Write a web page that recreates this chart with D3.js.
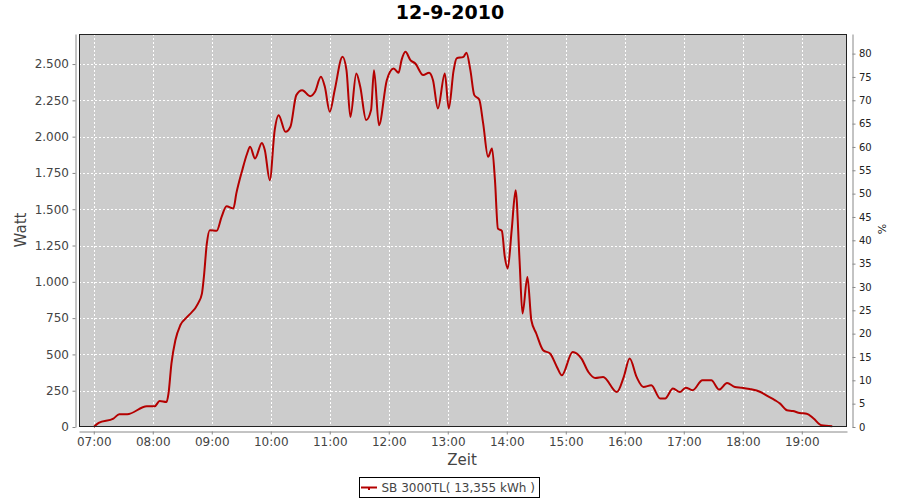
<!DOCTYPE html>
<html>
<head>
<meta charset="utf-8">
<script src="https://cdn.jsdelivr.net/npm/d3@7/dist/d3.min.js"></script>
<style>
  html, body { margin: 0; padding: 0; background: #fff; }
  svg { display: block; font-family: "DejaVu Sans", sans-serif; }
</style>
</head>
<body>
<svg id="chart" width="900" height="500"></svg>
<script>
// ---- data ----
const title = "12-9-2010";
const seriesName = "SB 3000TL( 13,355 kWh )";
const times = ["07:00","07:05","07:20","07:26","07:34","07:54","08:02","08:07","08:14","08:16",
  "08:19","08:23","08:28","08:35","08:46","08:50","08:52","08:55","08:58","09:05",
  "09:10","09:15","09:22","09:25","09:31","09:36","09:39","09:44","09:51","09:54",
  "09:59","10:04","10:08","10:15","10:20","10:26","10:32","10:40","10:45","10:51",
  "10:55","11:00","11:05","11:13","11:17","11:21","11:27","11:31","11:37","11:42",
  "11:45","11:50","11:58","12:05","12:10","12:13","12:17","12:22","12:27","12:35",
  "12:41","12:45","12:50","12:57","13:01","13:06","13:09","13:16","13:19","13:23",
  "13:27","13:32","13:36","13:41","13:45","13:48","13:51","13:55","13:58","14:01",
  "14:05","14:09","14:13","14:16","14:21","14:25","14:30","14:37","14:44","14:51",
  "14:56","15:07","15:16","15:23","15:30","15:38","15:52","15:59","16:05","16:12",
  "16:19","16:27","16:36","16:41","16:49","16:56","17:02","17:09","17:19","17:28",
  "17:36","17:44","17:52","17:59","18:07","18:18","18:24","18:33","18:38","18:45",
  "18:51","18:58","19:05","19:12","19:20","19:31"];
const watts = [0,28,58,88,88,143,143,179,172,230,
  437,597,701,758,850,919,1034,1264,1356,1351,
  1447,1521,1505,1609,1769,1884,1930,1850,1957,1907,
  1700,2045,2148,2033,2068,2286,2320,2279,2309,2412,
  2343,2171,2320,2550,2458,2136,2435,2343,2114,2183,
  2458,2079,2389,2470,2440,2527,2584,2527,2504,2424,
  2440,2389,2194,2435,2194,2458,2539,2550,2578,2458,
  2286,2256,2091,1861,1919,1700,1367,1351,1172,1092,
  1356,1631,1149,781,1034,735,644,529,506,414,
  356,517,471,379,338,345,241,345,471,345,
  276,287,196,196,265,241,271,253,322,322,
  258,303,276,271,262,241,218,184,161,115,
  110,96,92,58,12,5];
const leftTicks = [0,250,500,750,1000,1250,1500,1750,2000,2250,2500];
const rightTicks = [0,5,10,15,20,25,30,35,40,45,50,55,60,65,70,75,80];
const hourTicks = ["07:00","08:00","09:00","10:00","11:00","12:00","13:00","14:00","15:00","16:00","17:00","18:00","19:00"];

// ---- layout ----
const svg = d3.select("#chart");
const P = {left: 79, right: 847, top: 34, bottom: 427};
const parseT = s => { const [h, m] = s.split(":").map(Number); return new Date(2010, 8, 12, h, m); };

const x = d3.scaleTime()
  .domain([new Date(2010, 8, 12, 6, 45), new Date(2010, 8, 12, 19, 46)])
  .range([P.left, P.right]);
const y = d3.scaleLinear().domain([0, 2707]).range([P.bottom, P.top]);
const y2 = d3.scaleLinear().domain([0, 84.2]).range([P.bottom, P.top]);

const de = d3.formatLocale({decimal: ",", thousands: ".", grouping: [3], currency: ["", "€"]});
const fmt = de.format(",d");

// title
svg.append("text").attr("x", 450).attr("y", 19).attr("text-anchor", "middle")
  .attr("font-size", 19).attr("font-weight", "bold").attr("fill", "#000").text(title);

// plot background
svg.append("rect").attr("x", P.left).attr("y", P.top)
  .attr("width", P.right - P.left).attr("height", P.bottom - P.top).attr("fill", "#cccccc");

// grid
const grid = svg.append("g").attr("stroke", "#fff").attr("stroke-width", 1).attr("stroke-dasharray", "2,2");
grid.selectAll("line.h").data(leftTicks).join("line")
  .attr("x1", P.left).attr("x2", P.right)
  .attr("y1", d => Math.round(y(d)) + 0.5).attr("y2", d => Math.round(y(d)) + 0.5);
grid.selectAll("line.v").data(hourTicks.map(parseT)).join("line")
  .attr("y1", P.top).attr("y2", P.bottom)
  .attr("x1", d => Math.round(x(d)) + 0.5).attr("x2", d => Math.round(x(d)) + 0.5);

// line
const pts = times.map((t, i) => ({t: parseT(t), v: watts[i]}));
svg.append("path").datum(pts)
  .attr("fill", "none").attr("stroke", "#b40000").attr("stroke-width", 2)
  .attr("stroke-linejoin", "round")
  .attr("d", d3.line().x(d => x(d.t)).y(d => y(d.v)).curve(d3.curveMonotoneX));

// plot border
svg.append("rect").attr("x", P.left + 0.5).attr("y", P.top + 0.5)
  .attr("width", P.right - P.left - 1).attr("height", P.bottom - P.top - 1)
  .attr("fill", "none").attr("stroke", "#222").attr("stroke-width", 1);

// axes
function styleAxis(g, size, color) {
  g.select(".domain").attr("stroke", "#888");
  g.selectAll(".tick line").attr("stroke", "#888");
  g.selectAll(".tick text").attr("font-size", size).attr("fill", color)
    .attr("font-family", "DejaVu Sans, sans-serif");
}
const yLeft = d3.scaleLinear().domain(y.domain()).range([P.bottom - 0.5, P.top]);
svg.append("g").attr("transform", "translate(75.5,0)")
  .call(d3.axisLeft(y).tickValues(leftTicks).tickFormat(fmt).tickSizeInner(3).tickSizeOuter(0).tickPadding(3.5))
  .call(g => styleAxis(g, 12, "#444"));

svg.append("g").attr("transform", "translate(852.5,0)")
  .call(d3.axisRight(y2).tickValues(rightTicks).tickFormat(d3.format("d")).tickSizeInner(3).tickSizeOuter(0).tickPadding(3.5))
  .call(g => styleAxis(g, 10, "#222"));

svg.append("g").attr("transform", "translate(0,431.5)")
  .call(d3.axisBottom(x).tickValues(hourTicks.map(parseT)).tickFormat(d3.timeFormat("%H:%M")).tickSizeInner(3).tickSizeOuter(0).tickPadding(2.5))
  .call(g => styleAxis(g, 12, "#444"));

// axis titles
svg.append("text").attr("transform", "translate(26,230) rotate(-90)")
  .attr("text-anchor", "middle").attr("font-size", 15).attr("fill", "#444").text("Watt");
svg.append("text").attr("x", 462).attr("y", 465)
  .attr("text-anchor", "middle").attr("font-size", 15).attr("fill", "#444").text("Zeit");
svg.append("text").attr("transform", "translate(886,229) rotate(-90)")
  .attr("text-anchor", "middle").attr("font-size", 11).attr("fill", "#222").text("%");

// legend
const lg = svg.append("g");
lg.append("rect").attr("x", 359.5).attr("y", 477.5).attr("width", 180).attr("height", 20)
  .attr("fill", "#fff").attr("stroke", "#000").attr("stroke-width", 1);
lg.append("line").attr("x1", 361).attr("x2", 377).attr("y1", 487.5).attr("y2", 487.5)
  .attr("stroke", "#b40000").attr("stroke-width", 2);
lg.append("rect").attr("x", 368).attr("y", 487).attr("width", 2).attr("height", 3).attr("fill", "#b40000");
lg.append("text").attr("x", 381.5).attr("y", 492).attr("font-size", 12).attr("fill", "#444").text(seriesName);
</script>
</body>
</html>
